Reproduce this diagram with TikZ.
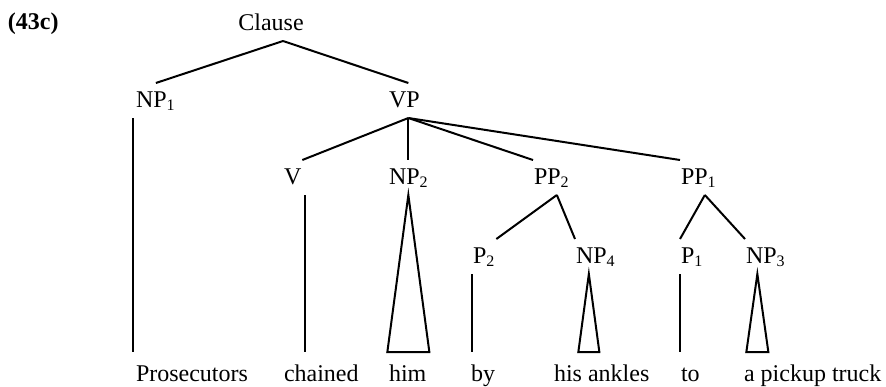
\documentclass[tikz,border=0pt]{standalone}
\usepackage{fontspec}
\setmainfont{Liberation Serif}
\usetikzlibrary{calc}

\newcommand{\sbs}[1]{\textsubscript{#1}}

\tikzset{
  cat/.style={anchor=base west, inner xsep=0pt, inner ysep=3.5pt, text height=8pt, text depth=1.5pt},
  word/.style={anchor=base west, inner xsep=0pt, inner ysep=6pt, text height=8pt, text depth=0pt},
  branch/.style={line width=1pt}
}

\begin{document}
\begin{tikzpicture}[x=0.5pt, y=-0.5pt, font=\fontsize{12}{14}\selectfont, branch]
\useasboundingbox (0,0) rectangle (886,386);
\node[anchor=base west, inner sep=0pt, font=\fontsize{12}{14}\selectfont\bfseries] (ex) at (7,29) {(43c)};
% categories
\node[cat, anchor=base] (clause) at (271,30) {Clause};
\node[cat] (np1) at (135,107) {NP\sbs{1}};
\node[cat] (vp) at (388,107) {VP};
\node[cat] (v) at (283,184) {V};
\node[cat] (np2) at (388,184) {NP\sbs{2}};
\node[cat] (pp2) at (533,184) {PP\sbs{2}};
\node[cat] (pp1) at (680,184) {PP\sbs{1}};
\node[cat] (p2) at (472,263) {P\sbs{2}};
\node[cat] (np4) at (575,263) {NP\sbs{4}};
\node[cat] (p1) at (680,263) {P\sbs{1}};
\node[cat] (np3) at (745,263) {NP\sbs{3}};
% words
\node[word] (prosecutors) at (135,381) {Prosecutors};
\node[word] (chained) at (283,381) {chained};
\node[word] (him) at (388,381) {him};
\node[word] (by) at (470,381) {by};
\node[word] (ankles) at (553,381) {his ankles};
\node[word] (to) at (680,381) {to};
\node[word] (truck) at (743,381) {a pickup truck};
% branching points
\coordinate (clroot) at ([xshift=6pt]clause.south);
\coordinate (vproot) at ([xshift=2pt]vp.south);
\coordinate (pp2root) at ([xshift=2.5pt]pp2.south);
\coordinate (pp1root) at ([xshift=3pt]pp1.south);
\coordinate (np2tip) at (vproot |- np2.south);
\coordinate (np4tip) at ([xshift=-3.5pt]np4.south);
\coordinate (np3tip) at ([xshift=-4.25pt]np3.south);
\draw (clroot) -- (np1.north);
\draw (clroot) -- (vproot |- vp.north);
\draw (vproot) -- (v.north east);
\draw (vproot) -- (vproot |- np2.north);
\draw (vproot) -- (pp2.north west);
\draw (vproot) -- (pp1.north west);
\draw (pp2root) -- (p2.north east);
\draw (pp2root) -- (np4.north west);
\draw (pp1root) -- (p1.north west);
\draw (pp1root) -- (np3.north west);
\draw ([xshift=-1pt]np1.south west) -- ([xshift=-1pt]np1.south west |- prosecutors.north);
\draw ([xshift=1.5pt]v.south east) -- ([xshift=1.5pt]v.south east |- chained.north);
\draw (p2.south west) -- (p2.south west |- by.north);
\draw (p1.south west) -- (p1.south west |- to.north);
\foreach \tip/\w/\hw in {np2tip/him/21, np4tip/ankles/10.5, np3tip/truck/11}
  \draw (\tip) -- ($(\tip |- \w.north)+(-\hw,0)$) -- ($(\tip |- \w.north)+(\hw,0)$) -- cycle;
\end{tikzpicture}
\end{document}
